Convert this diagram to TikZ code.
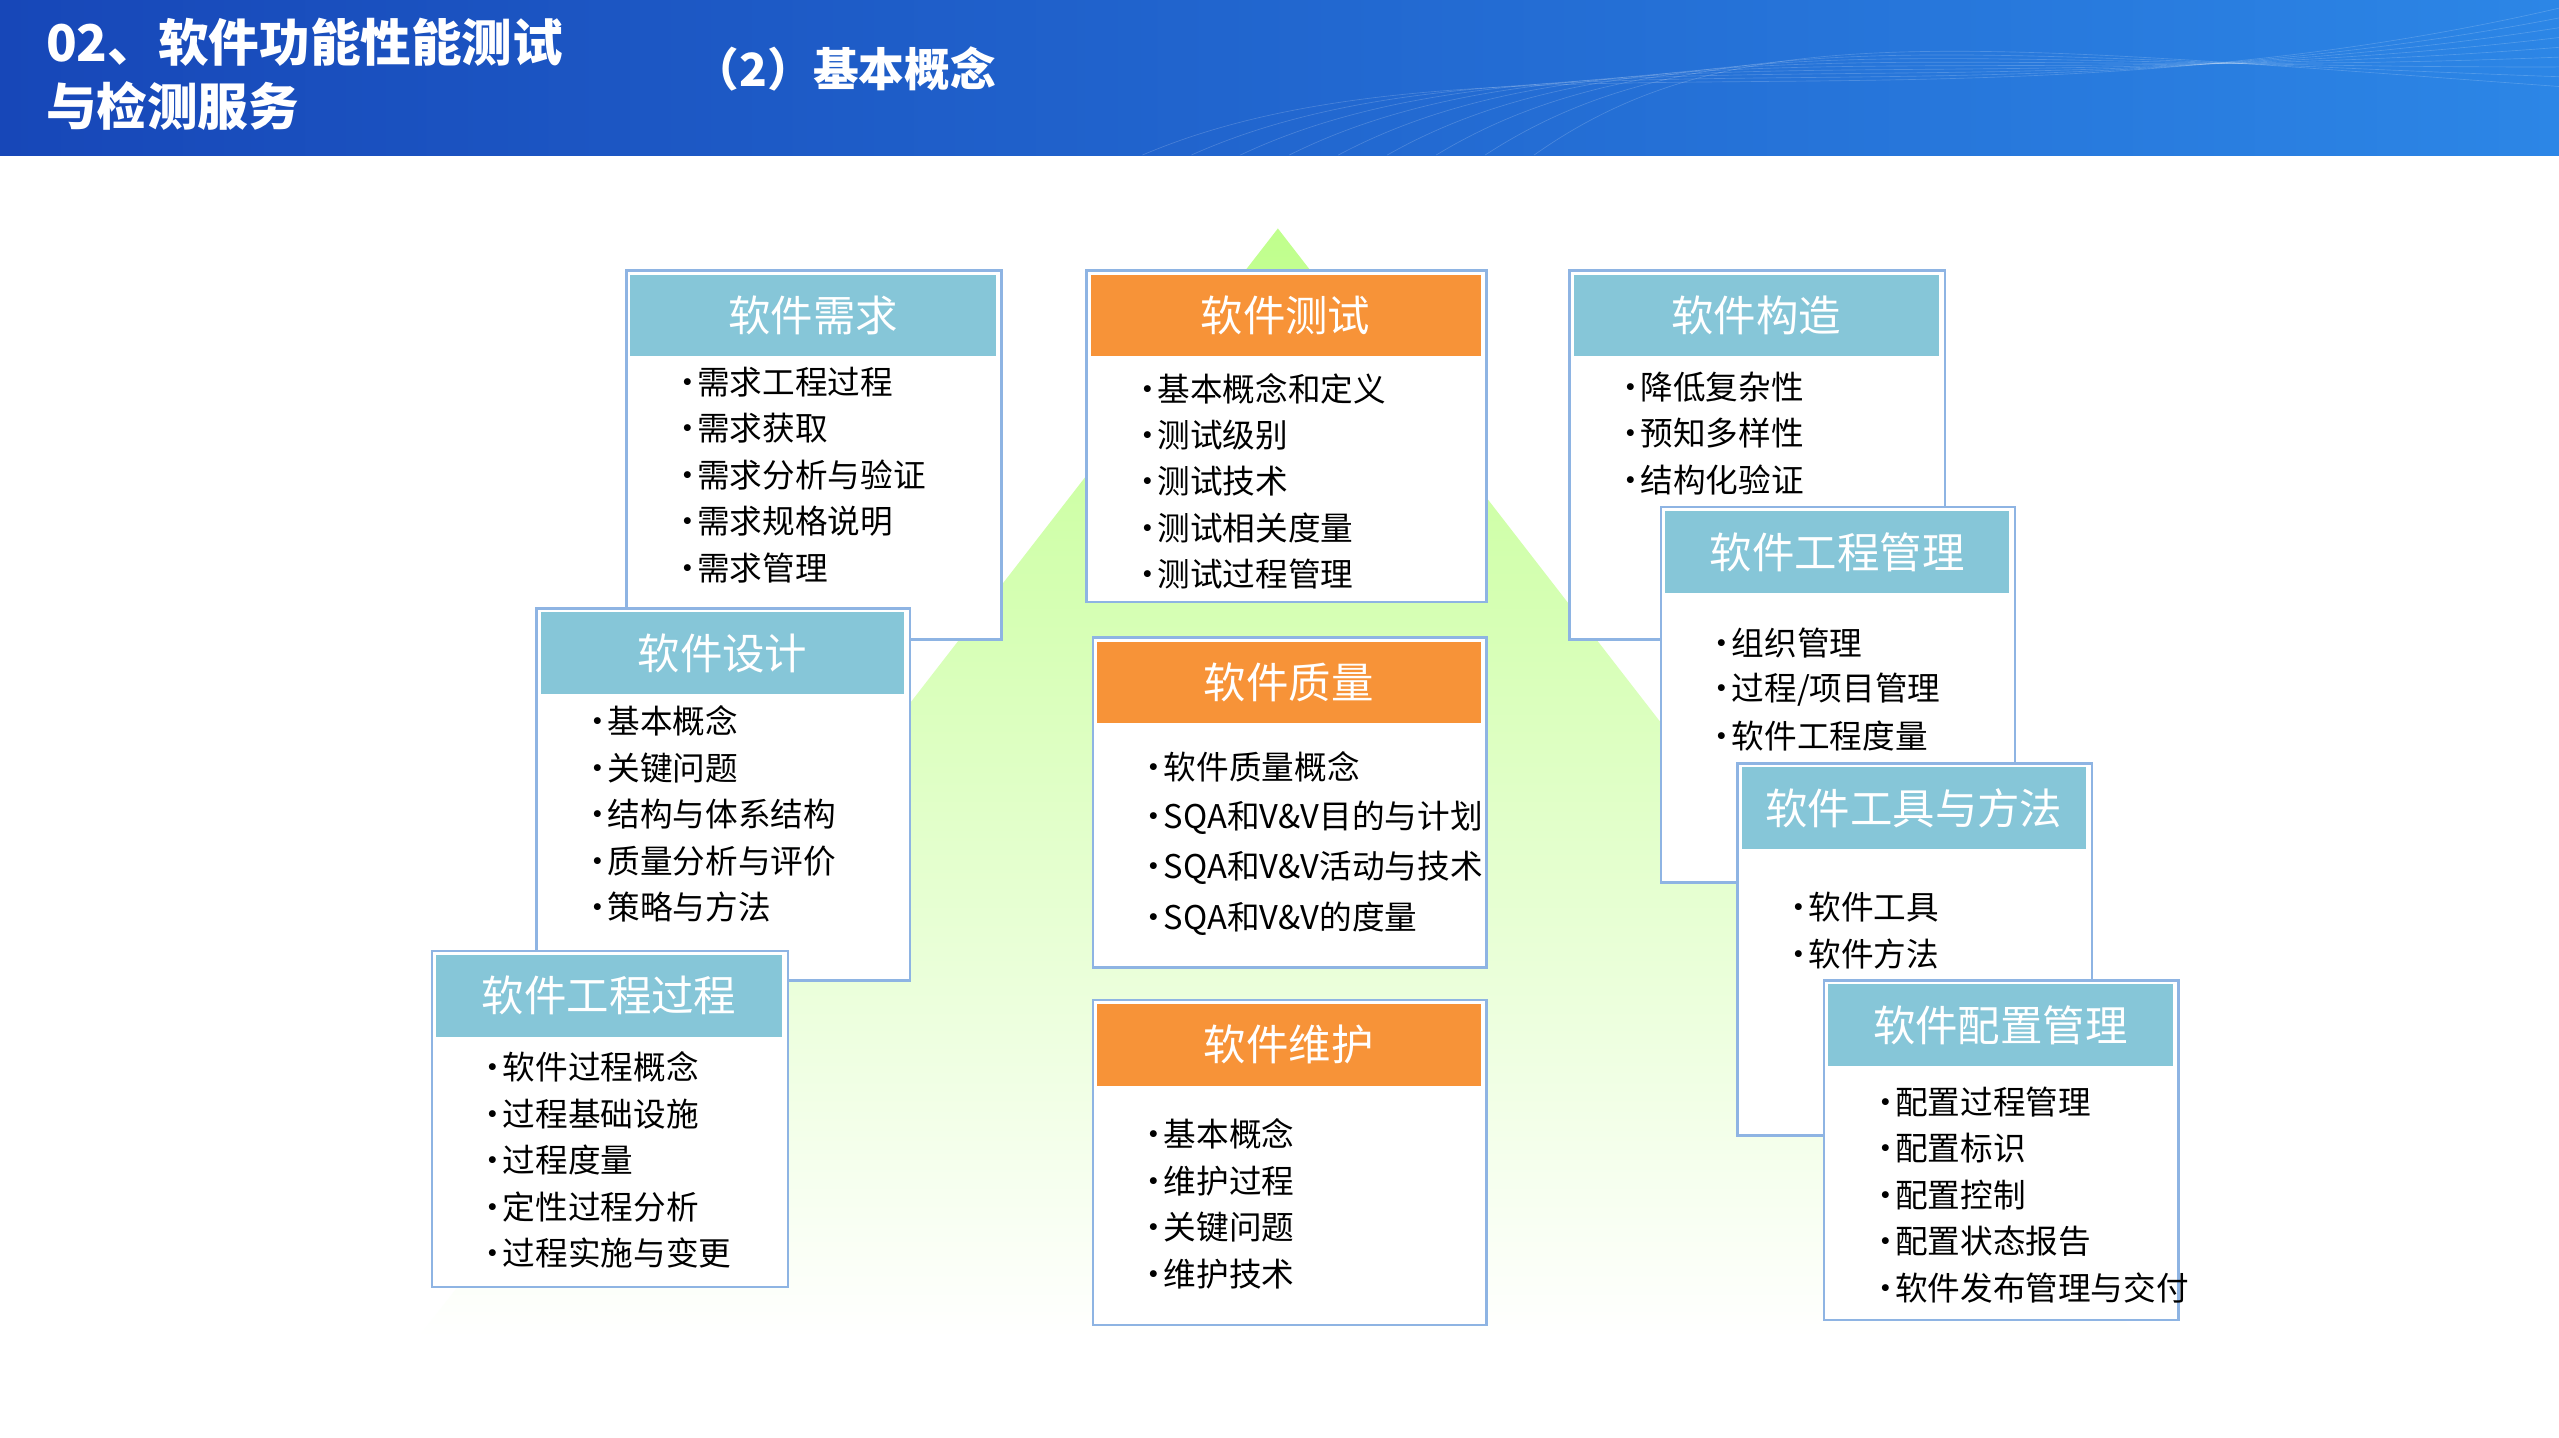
\documentclass[tikz,border=0pt]{standalone}
\usepackage{fontspec}
\setmainfont{Noto Sans CJK SC}
\definecolor{hdrblue}{HTML}{86C6D8}
\definecolor{hdrorange}{HTML}{F79338}
\definecolor{bord}{HTML}{8EB4E3}
\definecolor{topA}{HTML}{1747B8}
\definecolor{topB}{HTML}{2C86E6}
\newcommand\kbox[9]{%
  \node[draw=bord,line width=1.5pt,fill=white,anchor=north west,inner sep=0pt,
        minimum width=#4-#2,minimum height=#5-#3] (#1) at (#2,#3) {};
  \node[fill=#7,anchor=north west,inner sep=0pt,minimum width=#4-#2-6,minimum height=50,
        text=white,font=\fontsize{26}{28}\selectfont] (#1h) at (#2+3,#3+3) {\raisebox{-4pt}{#6}};
  \foreach \t [count=\i from 0] in {#9} {
    \node[anchor=west,inner sep=0pt,font=\fontsize{20}{22}\selectfont] at (#2+33,#8+\i*\kstep) {\makebox[11pt][l]{\hspace{-5pt}•}\t};
  }%
}
\begin{document}
\begin{tikzpicture}[x=1pt,y=-1pt]
\useasboundingbox (0,0) rectangle (1568,881);
\fill[white] (0,0) rectangle (1568,881);
% header band
\shade[left color=topA,right color=topB] (0,0) rectangle (1568,95);
\foreach \k in {0,...,8}{
  \draw[white,opacity=0.18] (700+\k*30,95) .. controls (900+\k*20,10) and (1200,90-\k*8) .. (1568,5+\k*6);
}
\node[anchor=west,text=white,font=\bfseries\fontsize{31}{34}\selectfont,inner sep=0pt] (t1) at (28,26) {02、软件功能性能测试};
\node[anchor=west,text=white,font=\bfseries\fontsize{31}{34}\selectfont,inner sep=0pt] (t2) at (28,65) {与检测服务};
\node[anchor=west,text=white,font=\bfseries\fontsize{28}{30}\selectfont,inner sep=0pt] (t3) at (425,42) {（2）基本概念};
% triangle
\shade[top color=green!40!lime!45,bottom color=white,shading angle=0] (783,140) -- (1310,820) -- (256,820) -- cycle;
\newcommand\kstep{28.5}
\kbox{req}{383}{165}{613}{391}{软件需求}{hdrblue}{234}{需求工程过程,需求获取,需求分析与验证,需求规格说明,需求管理}
\kbox{tst}{665}{165}{910}{368}{软件测试}{hdrorange}{238}{基本概念和定义,测试级别,测试技术,测试相关度量,测试过程管理}
\kbox{con}{961}{165}{1191}{391}{软件构造}{hdrblue}{237}{降低复杂性,预知多样性,结构化验证}
\kbox{des}{328}{372}{557}{600}{软件设计}{hdrblue}{442}{基本概念,关键问题,结构与体系结构,质量分析与评价,策略与方法}
\renewcommand\kstep{31}
\kbox{qua}{669}{390}{910}{592}{软件质量}{hdrorange}{470}{软件质量概念,SQA和V\&V目的与计划,SQA和V\&V活动与技术,SQA和V\&V的度量}
\renewcommand\kstep{28.5}
\kbox{mgt}{1017}{310}{1234}{540}{软件工程管理}{hdrblue}{394}{组织管理,过程/项目管理,软件工程度量}
\kbox{prc}{264}{582}{482}{788}{软件工程过程}{hdrblue}{654}{软件过程概念,过程基础设施,过程度量,定性过程分析,过程实施与变更}
\kbox{mnt}{669}{612}{910}{811}{软件维护}{hdrorange}{695}{基本概念,维护过程,关键问题,维护技术}
\kbox{tool}{1064}{467}{1281}{695}{软件工具与方法}{hdrblue}{556}{软件工具,软件方法}
\kbox{cfg}{1117}{600}{1334}{808}{软件配置管理}{hdrblue}{675}{配置过程管理,配置标识,配置控制,配置状态报告,软件发布管理与交付}
\end{tikzpicture}
\end{document}
